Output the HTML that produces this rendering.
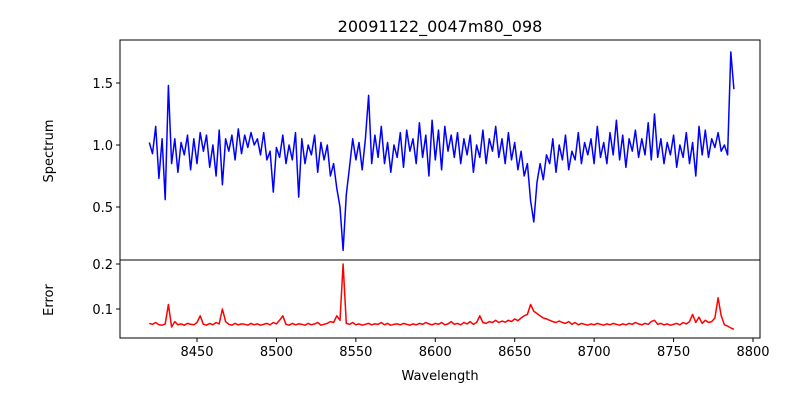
<!DOCTYPE html>
<html><head><meta charset="utf-8"><style>
body{margin:0;background:#fff}
svg{display:block;font-family:"DejaVu Sans","Liberation Sans",sans-serif}
</style></head><body>
<svg id="chart" width="800" height="400" xmlns="http://www.w3.org/2000/svg">
<rect width="800" height="400" fill="#fff"/>
<text x="440" y="32" text-anchor="middle" font-size="16">20091122_0047m80_098</text>
<text transform="translate(53,151) rotate(-90)" text-anchor="middle" font-size="13">Spectrum</text>
<text transform="translate(53,300) rotate(-90)" text-anchor="middle" font-size="13">Error</text>
<text x="440" y="380" text-anchor="middle" font-size="13">Wavelength</text>
<g id="g"></g>
</svg>
<script>
const wlStart = 8420, wlStep = 2;
const spectrum = [
1.02,0.93,1.15,0.73,1.05,0.56,1.48,0.85,1.05,0.78,
1.02,0.92,1.08,0.80,1.05,0.85,1.10,0.95,1.08,0.82,
1.00,0.75,1.12,0.68,1.05,0.95,1.08,0.88,1.13,0.93,
1.08,0.98,1.10,1.00,1.05,0.92,1.10,0.88,0.95,0.62,
0.98,0.90,1.08,0.85,1.00,0.88,1.10,0.58,1.05,0.85,
1.00,0.92,1.08,0.78,1.02,0.88,1.00,0.75,0.85,0.65,
0.50,0.15,0.60,0.82,1.05,0.88,1.02,0.80,1.05,1.40,
0.85,1.08,0.90,1.15,0.85,1.02,0.78,1.00,0.90,1.10,
0.82,1.12,0.95,1.05,0.85,1.18,0.90,1.08,0.75,1.20,
0.88,1.12,0.80,1.15,0.95,1.08,0.90,1.10,0.85,1.05,
0.92,1.08,0.78,1.00,0.90,1.12,0.85,1.05,0.95,1.15,
0.90,1.05,0.85,1.10,0.88,1.02,0.80,0.95,0.75,0.85,
0.55,0.38,0.70,0.85,0.72,0.92,0.85,1.05,0.78,1.00,
0.88,1.08,0.80,0.95,0.88,1.10,0.85,1.02,0.92,1.05,
0.85,1.15,0.90,1.02,0.85,1.10,0.92,1.20,0.88,1.08,
0.82,1.05,0.95,1.12,0.90,1.05,0.92,1.18,0.88,1.25,
0.90,1.05,0.85,1.02,0.92,1.08,0.82,1.00,0.90,1.10,
0.85,1.02,0.75,1.15,0.92,1.12,0.90,1.05,0.98,1.10,
0.95,1.00,0.92,1.75,1.45];
const errorVals = [
.068,.066,.070,.065,.064,.067,.110,.060,.072,.065,
.067,.064,.068,.066,.065,.070,.085,.066,.064,.068,
.065,.070,.067,.100,.072,.066,.064,.068,.065,.067,
.066,.064,.068,.065,.067,.064,.066,.068,.065,.070,
.067,.075,.085,.066,.064,.068,.065,.067,.066,.064,
.068,.065,.067,.070,.064,.066,.068,.072,.070,.085,
.075,.200,.068,.066,.070,.065,.067,.064,.066,.068,
.065,.067,.066,.070,.065,.068,.064,.066,.067,.065,
.068,.066,.064,.067,.065,.068,.066,.070,.067,.065,
.068,.066,.070,.065,.067,.072,.066,.068,.065,.070,
.067,.072,.066,.070,.085,.070,.068,.072,.070,.075,
.070,.073,.071,.075,.072,.078,.074,.080,.085,.088,
.110,.095,.090,.085,.080,.078,.075,.072,.070,.073,
.070,.068,.072,.066,.070,.065,.068,.066,.064,.067,
.065,.068,.066,.064,.067,.065,.068,.066,.064,.067,
.065,.068,.066,.070,.067,.065,.068,.066,.072,.075,
.066,.068,.065,.067,.064,.066,.068,.065,.070,.067,
.072,.088,.070,.082,.068,.075,.070,.072,.080,.125,
.085,.065,.062,.058,.055];
const xTicks = [8450,8500,8550,8600,8650,8700,8750,8800];
const specTicks = [0.5,1.0,1.5];
const errTicks = [0.1,0.2];

const NS='http://www.w3.org/2000/svg';
const g=document.getElementById('g');
const L=120,R=760,T1=40,B1=260,T2=260,B2=338;
const xs=v=>197+(v-8450)*556/350;
const ys=v=>145-(v-1.0)*124;
const ye=v=>309-(v-0.1)*450;
function mk(tag,at){const e=document.createElementNS(NS,tag);for(const k in at)e.setAttribute(k,at[k]);g.appendChild(e);return e;}

let d='';spectrum.forEach((v,i)=>{d+=(i?'L':'M')+xs(wlStart+i*wlStep).toFixed(1)+','+ys(v).toFixed(1);});
const sp=mk('path',{d:d,fill:'none',stroke:'#0000ff','stroke-width':1.5,'stroke-linejoin':'round'});


d='';errorVals.forEach((v,i)=>{d+=(i?'L':'M')+xs(wlStart+i*wlStep).toFixed(1)+','+ye(v).toFixed(1);});
const ep=mk('path',{d:d,fill:'none',stroke:'#ff0000','stroke-width':1.5,'stroke-linejoin':'round'});



const f1=mk('rect',{x:L,y:T1,width:R-L,height:B1-T1,fill:'none',stroke:'#000','stroke-width':1});


const f2=mk('rect',{x:L,y:T2,width:R-L,height:B2-T2,fill:'none',stroke:'#000','stroke-width':1});



xTicks.forEach(v=>{const x=xs(v);
 const t=mk('line',{x1:x,x2:x,y1:B2,y2:B2+4,stroke:'#000'});
 
 
 const l=mk('text',{x:x,y:B2+18,'text-anchor':'middle','font-size':13});l.textContent=v;
 
 
});
specTicks.forEach(v=>{const y=ys(v);
 const t=mk('line',{x1:L-4,x2:L,y1:y,y2:y,stroke:'#000'});
 
 
 const l=mk('text',{x:L-7,y:y+5,'text-anchor':'end','font-size':13});l.textContent=v.toFixed(1);
 
 
});
errTicks.forEach(v=>{const y=ye(v);
 const t=mk('line',{x1:L-4,x2:L,y1:y,y2:y,stroke:'#000'});
 
 
 const l=mk('text',{x:L-7,y:y+5,'text-anchor':'end','font-size':13});l.textContent=v.toFixed(1);
 
 
});
</script>
</body></html>
